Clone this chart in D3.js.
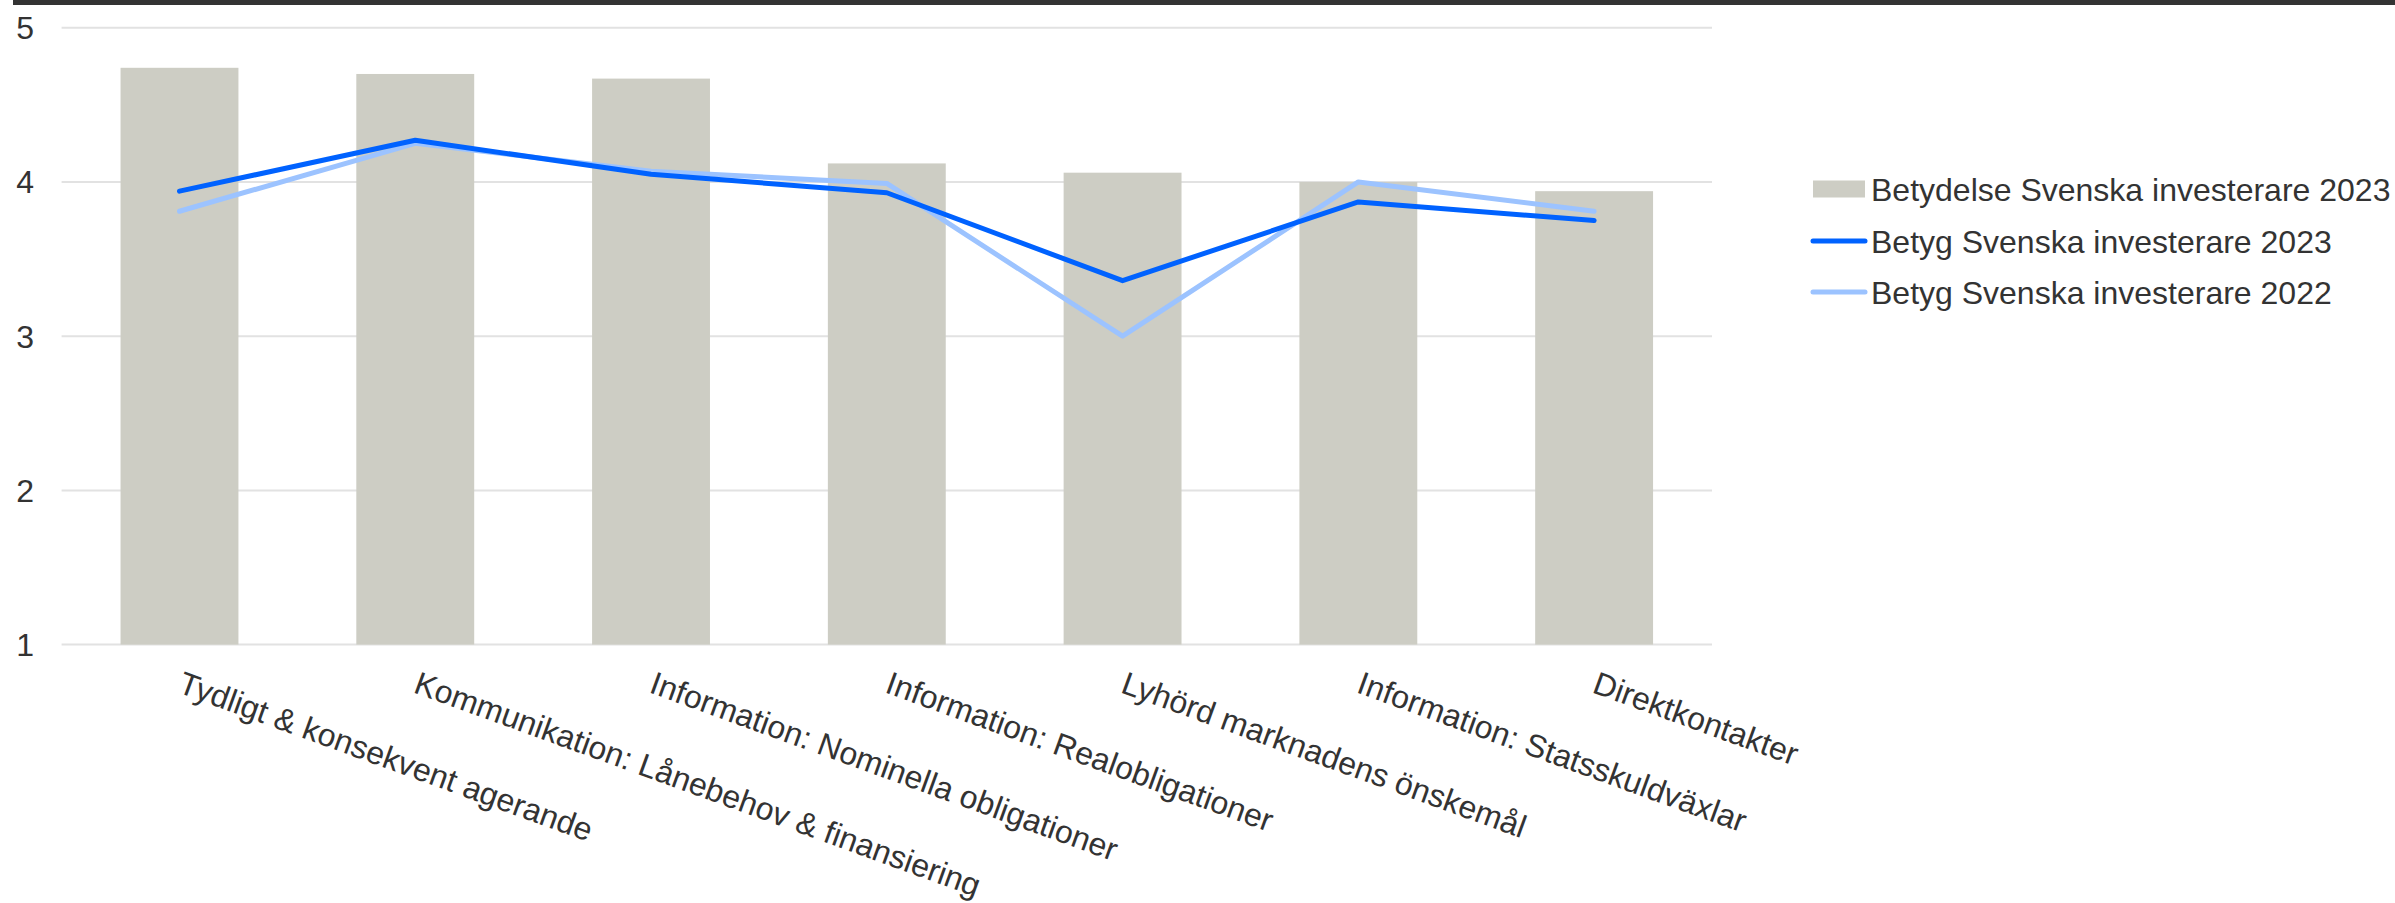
<!DOCTYPE html>
<html><head><meta charset="utf-8">
<script src="https://cdn.jsdelivr.net/npm/d3@7"></script>
<style>
html,body{margin:0;padding:0;background:#fff;}
text{font-family:"Liberation Sans",Arial,sans-serif;fill:#333;}
</style></head>
<body><svg id="c" width="2395" height="903"></svg>
<script>
const categories = ["Tydligt & konsekvent agerande","Kommunikation: Lånebehov & finansiering","Information: Nominella obligationer","Information: Realobligationer","Lyhörd marknadens önskemål","Information: Statsskuldväxlar","Direktkontakter"];
const betydelse2023 = [4.74, 4.70, 4.67, 4.12, 4.06, 4.00, 3.94];
const betyg2023 = [3.94, 4.27, 4.05, 3.93, 3.36, 3.87, 3.75];
const betyg2022 = [3.81, 4.25, 4.07, 3.99, 3.00, 4.00, 3.81];
const yTicks = [1, 2, 3, 4, 5];
const seriesNames = ["Betydelse Svenska investerare 2023","Betyg Svenska investerare 2023","Betyg Svenska investerare 2022"];

const svg = d3.select("#c");
const FS = 32;
const barColor = "#cdcdc4", dark = "#0062ff", light = "#9cc3ff";

svg.append("rect").attr("x", 13).attr("y", 0).attr("width", 2395 - 13).attr("height", 5).attr("fill", "#333");

const x = d3.scaleBand().domain(categories).range([61.6, 1712]).padding(0);
const y = d3.scaleLinear().domain([1, 5]).range([644.6, 27.7]);

// gridlines
svg.append("g").selectAll("line").data(yTicks).join("line")
  .attr("x1", 61.6).attr("x2", 1712)
  .attr("y1", d => y(d)).attr("y2", d => y(d))
  .attr("stroke", "#e2e2e2").attr("stroke-width", 2);

// y tick labels
svg.append("g").selectAll("text").data(yTicks).join("text")
  .attr("x", 34).attr("y", d => y(d)).attr("dy", "0.36em")
  .attr("text-anchor", "end").attr("font-size", FS).text(d => d);

// bars
const bw = x.bandwidth() * 0.5;
svg.append("g").selectAll("rect").data(categories).join("rect")
  .attr("x", (c) => x(c) + x.bandwidth() / 2 - bw / 2)
  .attr("width", bw)
  .attr("y", (c, i) => y(betydelse2023[i]))
  .attr("height", (c, i) => y(1) - y(betydelse2023[i]))
  .attr("fill", barColor);

// lines
const line = d3.line().x((d, i) => x(categories[i]) + x.bandwidth() / 2).y(d => y(d));
svg.append("path").datum(betyg2022).attr("d", line).attr("fill", "none")
  .attr("stroke", light).attr("stroke-width", 5).attr("stroke-linecap", "round").attr("stroke-linejoin", "round");
svg.append("path").datum(betyg2023).attr("d", line).attr("fill", "none")
  .attr("stroke", dark).attr("stroke-width", 5).attr("stroke-linecap", "round").attr("stroke-linejoin", "round");

// x labels
svg.append("g").selectAll("text").data(categories).join("text")
  .attr("transform", c => `translate(${x(c) + x.bandwidth() / 2 - 3},692) rotate(20)`)
  .attr("font-size", FS).text(c => c);

// legend
const lg = svg.append("g");
const rowsY = [189, 241, 292];
lg.append("rect").attr("x", 1813).attr("y", rowsY[0] - 8.5).attr("width", 52).attr("height", 17).attr("fill", barColor);
lg.append("line").attr("x1", 1813).attr("x2", 1865).attr("y1", rowsY[1]).attr("y2", rowsY[1])
  .attr("stroke", dark).attr("stroke-width", 5).attr("stroke-linecap", "round");
lg.append("line").attr("x1", 1813).attr("x2", 1865).attr("y1", rowsY[2]).attr("y2", rowsY[2])
  .attr("stroke", light).attr("stroke-width", 5).attr("stroke-linecap", "round");
lg.selectAll("text").data(seriesNames).join("text")
  .attr("x", 1871).attr("y", (d, i) => rowsY[i]).attr("dy", "0.36em")
  .attr("font-size", FS).text(d => d);
</script></body></html>
